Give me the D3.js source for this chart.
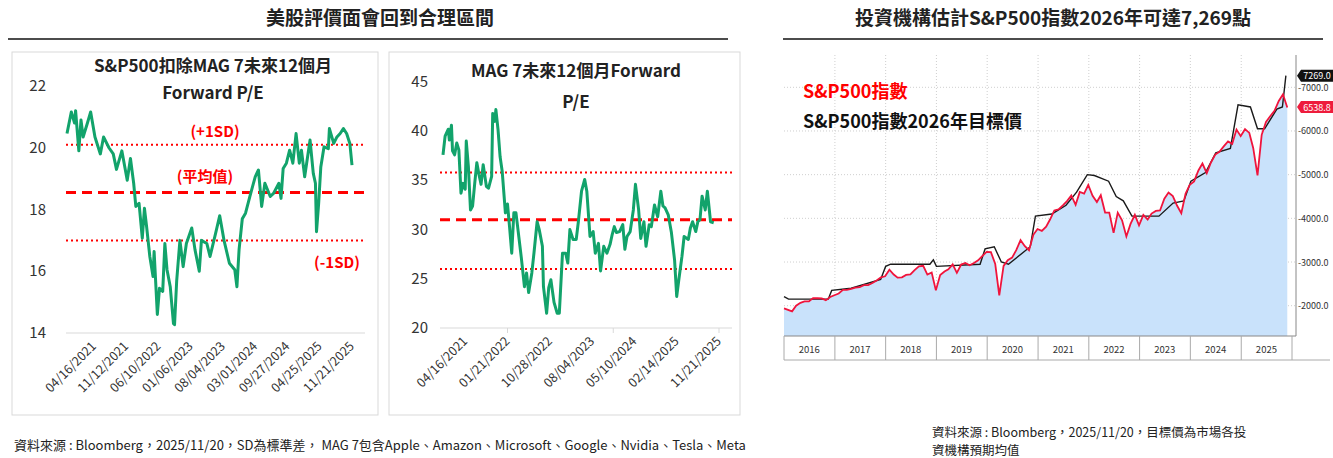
<!DOCTYPE html>
<html lang="zh-Hant">
<head>
<meta charset="UTF-8">
<title>S&P500 評價</title>
<style>
  body { margin: 0; background: #fff; font-family: "Noto Sans CJK TC", "Noto Sans", sans-serif; }
  svg text { fill: #222; }
</style>
</head>
<body>
<svg id="chart" width="1333" height="458"></svg>
<script src="https://d3js.org/d3.v7.min.js"></script>
<script>
// ---- 圖一：S&P500扣除MAG 7 Forward P/E（週序號 / 數值）
const exWeeks = [0,4,7,8,11,13,15,19,22,26,31,34,39,43,46,51,56,59,62,64,67,70,72,74,77,80,81,84,86,89,91,93,96,99,100,102,105,108,111,116,119,123,125,130,133,138,142,146,151,156,158,160,163,166,170,175,178,181,184,189,192,197,199,201,204,207,210,213,216,218,221,226,229,231,232,234,236,239,243,244,248,251,254,257,260,263,265];
const exValues = [20.46,21.16,20.8,21.2,19.9,20.9,20.35,20.8,21.16,20.35,19.8,20.35,20.0,19.8,19.3,19.9,18.95,19.65,18.85,18.1,18.2,17.07,18.04,17.45,16.48,15.83,16.64,14.6,15.45,15.35,16.9,16.05,15.5,14.3,14.27,15.7,17.0,16.15,16.9,17.4,16.7,16.0,17.0,16.9,16.48,17.2,17.8,17.0,16.26,16.05,15.5,16.7,17.7,17.88,18.42,19.06,19.28,18.1,18.85,18.42,18.52,18.85,18.36,19.33,19.5,19.92,19.5,20.46,19.5,19.92,19.06,20.25,19.17,18.85,17.28,18.2,19.38,20.03,19.97,20.62,20.14,20.35,20.46,20.62,20.46,20.14,19.44];
const exBands = { plus: 20.1, mean: 18.55, minus: 17.0 };
const exTicks = [25,55,85,115,145,175,205,235,265];
const exTickLabels = ["04/16/2021","11/12/2021","06/10/2022","01/06/2023","08/04/2023","03/01/2024","09/27/2024","04/25/2025","11/21/2025"];

// ---- 圖二：MAG 7 Forward P/E
const magWeeks = [0,2,5,6,8,9,11,13,15,17,19,21,22,24,26,28,30,32,34,36,38,41,43,46,47,49,50,52,54,56,59,61,63,65,67,69,74,77,79,81,84,86,89,91,94,95,98,100,102,105,108,110,113,116,118,120,123,126,128,131,134,136,139,142,144,147,149,152,155,158,160,162,164,167,170,172,174,177,180,182,185,187,190,192,195,197,200,203,206,208,210,213,216,219,221,223,226,228,232,234,236,239,241,243,245,248,250,253,256,259,261];
const magValues = [37.6,39.5,40.2,39.1,40.6,38.0,37.6,38.8,38.1,33.7,34.7,34.1,39.0,36.4,32.0,32.4,34.7,36.8,35.6,34.6,36.6,34.4,34.2,35.4,41.8,41.0,42.2,40.2,37.4,35.9,31.7,32.6,30.2,27.6,31.7,31.7,27.2,24.2,25.6,23.6,25.6,27.6,30.8,30.0,28.3,24.2,21.5,24.1,24.9,22.6,21.5,21.5,27.6,27.6,26.6,30.0,29.0,29.0,30.8,33.9,35.1,33.9,29.3,29.8,27.6,28.6,25.8,28.3,27.6,28.5,29.5,30.3,29.7,29.8,30.5,28.0,29.3,29.8,32.0,34.6,32.0,29.1,30.8,28.3,30.5,30.3,32.5,31.3,33.9,32.4,32.2,31.5,29.7,26.9,23.2,24.9,27.3,29.3,29.0,30.2,30.8,29.8,30.8,31.0,33.4,32.0,33.9,30.8,30.7];
const magBands = { plus: 35.8, mean: 31.0, minus: 26.0 };
const magTicks = [21,61,101,141,181,221,261];
const magTickLabels = ["04/16/2021","01/21/2022","10/28/2022","08/04/2023","05/10/2024","02/14/2025","11/21/2025"];
const magTickMarks = [61,161,261];

// ---- 圖三：S&P500 指數（月）與 2026 年目標價
const spxMonths = [
 "2016-01","2016-02","2016-03","2016-04","2016-05","2016-06","2016-07","2016-08","2016-09","2016-10","2016-11","2016-12",
 "2017-01","2017-02","2017-03","2017-04","2017-05","2017-06","2017-07","2017-08","2017-09","2017-10","2017-11","2017-12",
 "2018-01","2018-02","2018-03","2018-04","2018-05","2018-06","2018-07","2018-08","2018-09","2018-10","2018-11","2018-12",
 "2019-01","2019-02","2019-03","2019-04","2019-05","2019-06","2019-07","2019-08","2019-09","2019-10","2019-11","2019-12",
 "2020-01","2020-02","2020-03","2020-04","2020-05","2020-06","2020-07","2020-08","2020-09","2020-10","2020-11","2020-12",
 "2021-01","2021-02","2021-03","2021-04","2021-05","2021-06","2021-07","2021-08","2021-09","2021-10","2021-11","2021-12",
 "2022-01","2022-02","2022-03","2022-04","2022-05","2022-06","2022-07","2022-08","2022-09","2022-10","2022-11","2022-12",
 "2023-01","2023-02","2023-03","2023-04","2023-05","2023-06","2023-07","2023-08","2023-09","2023-10","2023-11","2023-12",
 "2024-01","2024-02","2024-03","2024-04","2024-05","2024-06","2024-07","2024-08","2024-09","2024-10","2024-11","2024-12",
 "2025-01","2025-02","2025-03","2025-04","2025-05","2025-06","2025-07","2025-08","2025-09","2025-10","2025-11"];
const spxValues = [
 1940,1870,2000,2065,2097,2099,2174,2171,2168,2126,2199,2239,
 2279,2364,2363,2384,2412,2423,2470,2472,2519,2575,2648,2674,
 2824,2714,2641,2648,2705,2718,2816,2902,2914,2712,2760,2351,
 2704,2784,2834,2946,2752,2942,2980,2926,2977,3038,3141,3231,
 3226,2954,2237,2912,3044,3100,3271,3500,3363,3270,3622,3756,
 3714,3811,3973,4181,4204,4298,4395,4523,4308,4605,4567,4766,
 4516,4374,4530,4132,4132,3667,4130,3955,3586,3872,4080,3840,
 4077,3970,4109,4169,4180,4450,4589,4508,4288,4117,4568,4770,
 4846,5096,5254,5036,5278,5460,5522,5648,5762,5705,6032,5882,
 6041,5955,5612,4982,5912,6205,6339,6460,6688,6840,6538.8];
const targetYears = [2016.0,2016.09,2016.87,2016.94,2017.32,2017.9,2018.0,2018.1,2018.87,2018.94,2019.0,2019.86,2019.96,2020.14,2020.28,2020.42,2020.85,2020.95,2021.27,2021.55,2021.76,2021.97,2022.11,2022.39,2022.54,2022.68,2022.85,2023.38,2023.66,2023.87,2024.01,2024.3,2024.5,2024.79,2024.94,2025.18,2025.32,2025.46,2025.7,2025.81,2025.88];
const targetValues = [2206,2150,2150,2350,2400,2600,2900,2950,2950,3050,2900,2950,3300,3350,3000,2950,3350,4050,4100,4300,4600,5000,4980,4850,4500,4400,4050,4050,4350,4400,4850,5050,5500,5600,6600,6550,6050,6050,6500,6550,7269];
const spxYTicks = [2000,3000,4000,5000,6000,7000];
const spxYears = [2016,2017,2018,2019,2020,2021,2022,2023,2024,2025];

const svg = d3.select("#chart");
const green = "#12a36b", red = "#ff0000";

// 標題
function header(text, x, x1, x2) {
  svg.append("text").attr("x", x).attr("y", 25).attr("text-anchor", "middle")
    .style("font-size", "19px").style("font-weight", "bold").text(text);
  svg.append("line").attr("x1", x1).attr("x2", x2).attr("y1", 39).attr("y2", 39)
    .attr("stroke", "#111").attr("stroke-width", 1.5);
}
header("美股評價面會回到合理區間", 380, 8, 728);
header("投資機構估計S&P500指數2026年可達7,269點", 1053, 783, 1323);

// P/E 面板
function pePanel(o) {
  svg.append("rect").attr("x", o.box[0]).attr("y", 52).attr("width", o.box[1] - o.box[0]).attr("height", 363)
    .attr("fill", "none").attr("stroke", "#d9d9d9");
  const x = d3.scaleLinear().domain([0, o.weeks[o.weeks.length - 1]]).range(o.xr);
  const y = d3.scaleLinear().domain(o.yd).range(o.yr);
  const g = svg.append("g");
  o.titles.forEach((t, i) => g.append("text").attr("x", o.tx).attr("y", o.ty[i]).attr("text-anchor", "middle")
    .style("font-size", "17px").style("font-weight", "bold").text(t));
  const yt = d3.range(o.yd[0], o.yd[1] + 0.1, o.step);
  g.selectAll(".yl").data(yt).join("text").attr("x", o.yx).attr("y", d => y(d) + 5)
    .attr("text-anchor", "end").style("font-size", "15px").style("fill", "#333").text(d => d);
  g.append("line").attr("x1", o.lx[0]).attr("x2", o.lx[1]).attr("y1", y(o.yd[0])).attr("y2", y(o.yd[0]))
    .attr("stroke", "#d9d9d9");
  (o.marks || []).forEach(w => g.append("line").attr("x1", x(w)).attr("x2", x(w))
    .attr("y1", y(o.yd[0])).attr("y2", y(o.yd[0]) + 5).attr("stroke", "#d9d9d9"));
  g.selectAll(".xl").data(o.ticks).join("text")
    .attr("transform", d => `translate(${x(d) + 3},${y(o.yd[0]) + 14}) rotate(-45)`)
    .attr("text-anchor", "end").style("font-size", "12.5px").style("fill", "#333")
    .text((d, i) => o.labels[i]);
  [["plus", "2,3"], ["minus", "2,3"], ["mean", "10,6"]].forEach(([k, dash]) =>
    g.append("line").attr("x1", o.lx[0]).attr("x2", o.lx[1]).attr("y1", y(o.bands[k])).attr("y2", y(o.bands[k]))
      .attr("stroke", red).attr("stroke-width", k === "mean" ? 3 : 2).attr("stroke-dasharray", dash));
  g.append("path").datum(o.weeks.map((w, i) => [w, o.values[i]]))
    .attr("d", d3.line().x(d => x(d[0])).y(d => y(d[1])))
    .attr("fill", "none").attr("stroke", green).attr("stroke-width", 3).attr("stroke-linejoin", "round");
  (o.notes || []).forEach(n => g.append("text").attr("x", n[0]).attr("y", n[1]).attr("text-anchor", "middle")
    .style("font-size", "15px").style("font-weight", "bold").style("fill", red).text(n[2]));
}

pePanel({ box: [12, 378], weeks: exWeeks, values: exValues, bands: exBands,
  xr: [67, 352], yd: [14, 22], yr: [333, 86], step: 2, yx: 46, lx: [66, 365],
  ticks: exTicks, labels: exTickLabels, titles: ["S&P500扣除MAG 7未來12個月", "Forward P/E"],
  tx: 213, ty: [72, 99],
  notes: [[215, 137, "(+1SD)"], [205, 182, "(平均值)"], [337, 268, "(-1SD)"]] });

pePanel({ box: [389, 740], weeks: magWeeks, values: magValues, bands: magBands,
  xr: [443, 719], yd: [20, 45], yr: [328, 82], step: 5, yx: 428, lx: [440, 732],
  ticks: magTicks, labels: magTickLabels, marks: magTickMarks,
  titles: ["MAG 7未來12個月Forward", "P/E"], tx: 576, ty: [77, 108] });

// ---- 圖三
const parseM = d3.timeParse("%Y-%m");
const yearToDate = t => { const yr = Math.floor(t); return new Date(yr, 0, 1 + Math.round((t - yr) * 365)); };
const x3 = d3.scaleTime().domain([new Date(2016, 0, 1), new Date(2026, 0, 1)]).range([784, 1292]);
const y3 = d3.scaleLinear().domain([2000, 7000]).range([305.7, 87.3]);
const g3 = svg.append("g");
const bottom3 = 336, axisX = 1296;
g3.selectAll(".hg").data(spxYTicks).join("line").attr("x1", 784).attr("x2", axisX)
  .attr("y1", d => y3(d)).attr("y2", d => y3(d)).attr("stroke", "#cfcfcf").attr("stroke-dasharray", "1,2");
g3.selectAll(".vg").data(spxYears.slice(1)).join("line").attr("x1", d => x3(new Date(d, 0, 1))).attr("x2", d => x3(new Date(d, 0, 1)))
  .attr("y1", 55).attr("y2", bottom3).attr("stroke", "#cfcfcf").attr("stroke-dasharray", "1,2");
const spx = spxMonths.map((m, i) => [d3.timeDay.offset(parseM(m), 27), spxValues[i]]);
spx[0][0] = new Date(2016, 0, 1);
g3.append("path").datum(spx)
  .attr("d", d3.area().x(d => x3(d[0])).y0(bottom3).y1(d => y3(d[1])))
  .attr("fill", "#c9e2fb");
g3.append("path").datum(targetYears.map((t, i) => [yearToDate(t), targetValues[i]]))
  .attr("d", d3.line().x(d => x3(d[0])).y(d => y3(d[1])))
  .attr("fill", "none").attr("stroke", "#1a1a1a").attr("stroke-width", 1.4);
g3.append("path").datum(spx)
  .attr("d", d3.line().x(d => x3(d[0])).y(d => y3(d[1])))
  .attr("fill", "none").attr("stroke", "#f0143c").attr("stroke-width", 1.8);
// 座標軸
g3.append("line").attr("x1", axisX).attr("x2", axisX).attr("y1", 55).attr("y2", bottom3).attr("stroke", "#888");
g3.append("line").attr("x1", 784).attr("x2", axisX).attr("y1", bottom3).attr("y2", bottom3).attr("stroke", "#888");
g3.append("line").attr("x1", 784).attr("x2", 1330).attr("y1", 360).attr("y2", 360).attr("stroke", "#aaa");
g3.selectAll(".yt").data(spxYTicks).join("text").attr("x", axisX + 2).attr("y", d => y3(d) + 3.5)
  .style("font-size", "9px").style("fill", "#333").text(d => "-" + d.toFixed(1));
g3.selectAll(".ys").data(spxYears.concat([2026])).join("line").attr("x1", d => x3(new Date(d, 0, 1))).attr("x2", d => x3(new Date(d, 0, 1)))
  .attr("y1", bottom3).attr("y2", 360).attr("stroke", "#aaa");
g3.selectAll(".yr").data(spxYears).join("text").attr("x", d => x3(new Date(d, 6, 1))).attr("y", 353)
  .attr("text-anchor", "middle").style("font-size", "9.5px").style("fill", "#333").text(d => d);
// 右側數值標籤
[[targetValues[targetValues.length - 1], "#111", 75.7], [spxValues[spxValues.length - 1], "#ee1c3c", 107]].forEach(([v, c, yy]) => {
  g3.append("path").attr("d", `M${axisX + 1},${yy} l4,-6 h32 v12 h-32 z`).attr("fill", c);
  g3.append("text").attr("x", axisX + 21).attr("y", yy + 3.5).attr("text-anchor", "middle")
    .style("font-size", "9px").style("fill", "#fff").text(v.toFixed(1));
});
g3.append("text").attr("x", 803).attr("y", 98).style("font-size", "18px").style("font-weight", "bold")
  .style("fill", red).text("S&P500指數");
g3.append("text").attr("x", 803).attr("y", 128).style("font-size", "18px").style("font-weight", "bold")
  .style("fill", "#111").text("S&P500指數2026年目標價");

// 資料來源
svg.append("text").attr("x", 14).attr("y", 450).style("font-size", "13px")
  .text("資料來源 : Bloomberg，2025/11/20，SD為標準差， MAG 7包含Apple、Amazon、Microsoft、Google、Nvidia、Tesla、Meta");
svg.append("text").attr("x", 932).attr("y", 437).style("font-size", "12.5px")
  .text("資料來源 : Bloomberg，2025/11/20，目標價為市場各投");
svg.append("text").attr("x", 932).attr("y", 455).style("font-size", "12.5px").text("資機構預期均值");
</script>
</body>
</html>
